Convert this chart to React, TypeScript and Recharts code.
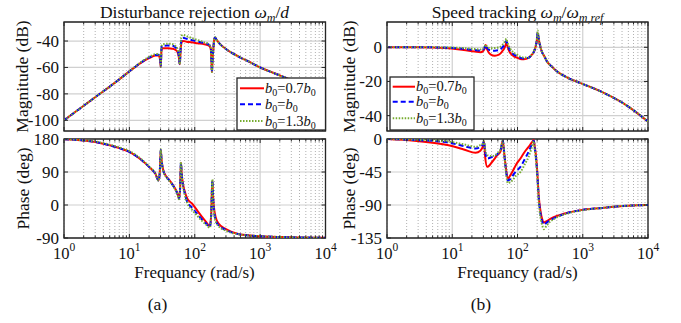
import React from 'react';
import {
  CartesianGrid,
  Line,
  LineChart,
  ReferenceArea,
  XAxis,
  YAxis,
} from 'recharts';

const FONT = "'Liberation Serif', 'Times New Roman', Times, serif";
const FRAME = '#262626';
const PAGE_W = 681;
const PAGE_H = 323;

// x axis (rad/s), log scale
const MAJOR_TICKS = [1, 10, 100, 1000, 10000];
const MINOR_TICKS = [
  2, 3, 4, 5, 6, 7, 8, 9,
  20, 30, 40, 50, 60, 70, 80, 90,
  200, 300, 400, 500, 600, 700, 800, 900,
  2000, 3000, 4000, 5000, 6000, 7000, 8000, 9000,
];

// (a) disturbance rejection, magnitude (dB)
const LM_W = [1, 2, 3, 5, 7, 10, 15, 20, 25, 28, 29.5, 30.2, 31, 32, 35, 40, 45, 50, 54, 57, 59, 61, 63, 66, 75, 90, 110, 140, 165, 176, 180, 183, 187, 193, 200, 205, 215, 240, 300, 400, 500, 700, 1000, 2000, 5000, 10000];
const LM_RED = [-100, -89, -82.5, -74.5, -69, -63, -56.5, -53, -51, -51, -54, -59.5, -47, -45.5, -45.5, -45.5, -45.8, -46.5, -48, -52, -57.5, -46, -41, -40, -40.5, -41, -41.7, -42.5, -43.5, -46, -55, -63.5, -55, -45, -38, -37.5, -39, -42, -46, -50, -52.5, -56, -60, -66, -74, -80];
const LM_BLUE = [-100, -89, -82.5, -74.5, -69, -63, -56.3, -52.5, -50.5, -50.3, -53, -59.5, -45, -43.5, -43.5, -43.3, -43.5, -44.5, -46.5, -51, -57.5, -44, -38.5, -37.5, -38.3, -39.3, -40.3, -41.5, -42.8, -45.5, -55, -63.5, -55, -45, -38, -37.3, -39, -42, -46, -50, -52.5, -56, -60, -66, -74, -80];
const LM_GREEN = [-100, -89, -82.5, -74.5, -69, -63, -56, -52, -50, -49.8, -52, -59.5, -44, -42.5, -42.2, -42, -42.3, -43.5, -45.5, -50, -57.5, -42, -36, -35.3, -36.3, -37.8, -39.2, -41, -42.5, -45.3, -55, -63.5, -55, -45, -38, -37, -39, -42, -46, -50, -52.5, -56, -60, -66, -74, -80];

// (a) disturbance rejection, phase (deg)
const LP_W = [1, 2, 3, 5, 7, 10, 15, 20, 25, 28, 29.2, 30.2, 31, 33, 36, 40, 45, 50, 54, 57.5, 59.5, 61.5, 63, 66, 70, 77, 92, 110, 130, 150, 170, 178, 186, 192, 197, 210, 230, 300, 480, 1000, 3000, 10000];
const LP_RED = [179.5, 176, 172, 163, 155, 145, 124, 104, 85, 67, 90, 150, 125, 95, 80, 70, 58, 45, 33, 18, 40, 115, 88, 58, 38, 17, 3, -16, -33, -47, -58, -30, 66, 15, -8, -35, -50, -66, -80, -85, -88, -89.5];
const LP_BLUE = [179.5, 176, 172, 163, 155, 145, 124, 104, 85, 66, 90, 150, 124, 94, 79, 69, 57, 44, 32, 17, 40, 115, 86, 55, 33, 8, -8, -25, -40, -51, -60, -30, 68, 12, -15, -42, -55, -68, -80, -85, -88, -89.5];
const LP_GREEN = [179.5, 176.5, 173, 164.5, 157, 147, 126, 105, 86, 66, 90, 152, 123, 93, 78, 68, 56, 43, 31, 16, 40, 117, 85, 53, 30, 5, -14, -30, -44, -54, -62, -30, 70, 10, -20, -45, -57, -70, -80, -85, -88, -89.5];

// (b) speed tracking, magnitude (dB)
const RM_W = [1, 3, 8, 15, 22, 27, 30, 31.5, 32.6, 34, 38.5, 45, 52, 58, 63, 66, 67.7, 70, 74, 78, 88, 98, 110, 125, 148, 165, 177, 190, 198, 204, 210, 220, 236, 260, 284, 330, 405, 600, 930, 2000, 5000, 10000];
const RM_RED = [0, 0, -0.4, -1.6, -2.5, -2.9, -2, -0.5, 1.3, -1, -4.1, -4.9, -4.3, -2.5, -0.5, 1.5, 2.9, 1, -2, -3.5, -5.3, -6, -6.8, -7, -6.2, -4.5, -2.9, 0.5, 4, 8.2, 5.5, 1.5, -2.5, -5.5, -8.4, -11, -14.2, -18, -21, -26.3, -34.7, -43.5];
const RM_BLUE = [0, 0, -0.2, -0.9, -1.6, -1.9, -1.2, 0, 1.4, -0.3, -1.8, -2, -1.6, -0.3, 1.5, 3, 3.8, 1.8, -0.7, -2.2, -4.2, -5.2, -6.2, -6.5, -6.1, -4.4, -2.8, 0.6, 4.3, 8.8, 5.8, 1.6, -2.5, -5.5, -8.4, -11, -14.2, -18, -21, -26.3, -34.7, -43.5];
const RM_GREEN = [0, 0, -0.1, -0.5, -1, -1.3, -0.6, 0.5, 1.6, 0.5, -0.6, -0.4, 0, 1.2, 3, 4.4, 5, 2.8, 0.5, -1, -3.2, -4.3, -5.5, -6, -6, -4.3, -2.6, 0.9, 4.8, 9.8, 6.2, 1.8, -2.4, -5.5, -8.4, -11, -14.2, -18, -21, -26.3, -34.7, -43.5];

// (b) speed tracking, phase (deg)
const RP_W = [1, 2.6, 8.4, 15, 22.8, 27, 29.5, 30.6, 32, 34.3, 41, 49, 55, 59.5, 63, 67, 71, 77, 83, 95, 111, 130, 148, 165, 177, 185, 193, 200, 212, 225, 240, 253, 280, 318, 400, 510, 930, 2000, 3000, 10000];
const RP_RED = [0, -2.3, -8.3, -14.2, -18.8, -16, -10, -3.5, -25, -38, -31, -22, -17, -2.3, -22, -42, -54, -50, -45, -35, -26.6, -17, -10.6, -5, -1.5, -12, -25, -42, -79, -98, -110, -114, -112, -109, -105, -102, -97, -94, -92.3, -90];
const RP_BLUE = [0, -1.3, -4.6, -9.6, -12.9, -10.6, -7, -3, -18, -26.6, -24.3, -20.7, -15, -2.3, -22, -45, -56.5, -55, -51, -44, -38, -27, -17.4, -8, -2.5, -14, -28, -45, -82, -102, -113, -117, -114, -110.6, -106, -102.5, -97, -94, -92.3, -90];
const RP_GREEN = [0, -1, -3.2, -7.3, -10.6, -8.3, -6, -3, -15, -22, -23.4, -19.7, -14, -2.5, -22, -47, -60, -59, -56.5, -50, -45, -34, -24.3, -12, -3, -16, -30, -48, -85, -107, -118, -123, -118, -112.5, -107, -103, -97.5, -94, -92.3, -90];

const SERIES = [
  { key: 'r', coef: '0.7', color: '#ff0000', dash: undefined as string | undefined },
  { key: 'b', coef: '', color: '#0000ff', dash: '5 3' },
  { key: 'g', coef: '1.3', color: '#77ac30', dash: '1.5 1.5' },
];

function toRows(w: number[], r: number[], b: number[], g: number[]) {
  return w.map((x, i) => ({ w: x, r: r[i], b: b[i], g: g[i] }));
}

type Box = { l: number; t: number; r: number; b: number };

function BodePanel({
  rows,
  box,
  yDomain,
  yTicks,
  xLabels,
}: {
  rows: any[];
  box: Box;
  yDomain: [number, number];
  yTicks: number[];
  xLabels: boolean;
}) {
  const { l, t, r, b } = box;

  const majorTick = (p: any) => {
    const x = p.x;
    const exp = Math.round(Math.log10(p.payload.value));
    return (
      <g>
        <line x1={x} x2={x} y1={b} y2={b - 4} stroke={FRAME} />
        <line x1={x} x2={x} y1={t} y2={t + 4} stroke={FRAME} />
        {xLabels && (
          <text x={x} y={258.5} textAnchor="middle" fontFamily={FONT} fontSize={16.5} fill="#111">
            10<tspan dy={-8} fontSize={11.5}>{exp}</tspan>
          </text>
        )}
      </g>
    );
  };

  const minorTick = (p: any) => (
    <g>
      <line x1={p.x} x2={p.x} y1={b} y2={b - 2.5} stroke={FRAME} />
      <line x1={p.x} x2={p.x} y1={t} y2={t + 2.5} stroke={FRAME} />
    </g>
  );

  const yTick = (p: any) => (
    <g>
      <line x1={l} x2={l + 4} y1={p.y} y2={p.y} stroke={FRAME} />
      <line x1={r} x2={r - 4} y1={p.y} y2={p.y} stroke={FRAME} />
      <text x={l - 5} y={p.y} dy="0.35em" textAnchor="end" fontFamily={FONT} fontSize={17} fill="#111">
        {p.payload.value}
      </text>
    </g>
  );

  return (
    <div style={{ position: 'absolute', left: 0, top: 0 }}>
      <LineChart
        width={PAGE_W}
        height={PAGE_H}
        data={rows}
        margin={{ top: t, left: l - 1, right: PAGE_W - r, bottom: PAGE_H - b - 2 }}
      >
        <XAxis
          xAxisId="maj"
          dataKey="w"
          type="number"
          scale="log"
          domain={[1, 10000]}
          ticks={MAJOR_TICKS}
          interval={0}
          height={1}
          axisLine={false}
          tickLine={false}
          tick={majorTick}
          allowDataOverflow
        />
        <XAxis
          xAxisId="min"
          dataKey="w"
          type="number"
          scale="log"
          domain={[1, 10000]}
          ticks={MINOR_TICKS}
          interval={0}
          height={1}
          axisLine={false}
          tickLine={false}
          tick={minorTick}
          allowDataOverflow
        />
        <YAxis
          type="number"
          domain={yDomain}
          ticks={yTicks}
          interval={0}
          width={1}
          axisLine={false}
          tickLine={false}
          tick={yTick}
          allowDataOverflow
        />
        <CartesianGrid xAxisId="min" horizontal={false} stroke="#b0b0b0" strokeDasharray="1 2" />
        <CartesianGrid xAxisId="maj" stroke="#d0d0d0" strokeWidth={1.2} />
        {SERIES.map((s) => (
          <Line
            key={s.key}
            xAxisId="maj"
            type="monotone"
            dataKey={s.key}
            stroke={s.color}
            strokeWidth={2}
            strokeDasharray={s.dash}
            dot={false}
            activeDot={false}
            isAnimationActive={false}
          />
        ))}
        <ReferenceArea
          xAxisId="maj"
          x1={1}
          x2={10000}
          y1={yDomain[0]}
          y2={yDomain[1]}
          fill="none"
          stroke={FRAME}
          strokeWidth={1.3}
          ifOverflow="visible"
        />
      </LineChart>
    </div>
  );
}

function LegendLabel({ coef }: { coef: string }) {
  return (
    <>
      <tspan fontStyle="italic">b</tspan>
      <tspan fontSize={10} dy={3}>0</tspan>
      <tspan dy={-3}>={coef}</tspan>
      <tspan fontStyle="italic">b</tspan>
      <tspan fontSize={10} dy={3}>0</tspan>
    </>
  );
}

function LegendBox({
  left,
  top,
  width,
  height,
  rows,
  sample,
}: {
  left: number;
  top: number;
  width: number;
  height: number;
  rows: number[];
  sample: [number, number];
}) {
  return (
    <svg
      width={width + 2}
      height={height + 2}
      style={{ position: 'absolute', left: left - 1, top: top - 1 }}
    >
      <rect x={1} y={1} width={width} height={height} fill="#fff" stroke={FRAME} strokeWidth={1.3} />
      {SERIES.map((s, i) => (
        <g key={s.key}>
          <line
            x1={sample[0]}
            x2={sample[1]}
            y1={rows[i]}
            y2={rows[i]}
            stroke={s.color}
            strokeWidth={2}
            strokeDasharray={s.dash}
          />
          <text x={sample[1] + 1} y={rows[i]} dy="0.32em" fontFamily={FONT} fontSize={14.5} fill="#111">
            <LegendLabel coef={s.coef} />
          </text>
        </g>
      ))}
    </svg>
  );
}

const LEFT_MAG_BOX = { l: 64, t: 22, r: 325.5, b: 131 };
const LEFT_PH_BOX = { l: 64, t: 139, r: 325.5, b: 238 };
const RIGHT_MAG_BOX = { l: 387, t: 22, r: 648, b: 131 };
const RIGHT_PH_BOX = { l: 387, t: 139, r: 648, b: 238 };

function Texts() {
  const label = { fontFamily: FONT, fontSize: 17.5, fill: '#111' };
  return (
    <svg width={PAGE_W} height={PAGE_H} style={{ position: 'absolute', left: 0, top: 0 }}>
      <text x={194.5} y={18} textAnchor="middle" {...label}>
        Disturbance rejection <tspan fontStyle="italic">ω</tspan>
        <tspan fontStyle="italic" fontSize={12} dy={4}>m</tspan>
        <tspan dy={-4}>/</tspan>
        <tspan fontStyle="italic">d</tspan>
      </text>
      <text x={517.5} y={18} textAnchor="middle" {...label}>
        Speed tracking <tspan fontStyle="italic">ω</tspan>
        <tspan fontStyle="italic" fontSize={12} dy={4}>m</tspan>
        <tspan dy={-4}>/</tspan>
        <tspan fontStyle="italic">ω</tspan>
        <tspan fontStyle="italic" fontSize={12} dy={4}>m,ref</tspan>
      </text>

      <text x={21.5} y={76.5} transform="rotate(-90 21.5 76.5)" textAnchor="middle" dominantBaseline="central" {...label}>
        Magnitude (dB)
      </text>
      <text x={23} y={188.5} transform="rotate(-90 23 188.5)" textAnchor="middle" dominantBaseline="central" {...label}>
        Phase (deg)
      </text>
      <text x={348.5} y={76.5} transform="rotate(-90 348.5 76.5)" textAnchor="middle" dominantBaseline="central" {...label}>
        Magnitude (dB)
      </text>
      <text x={348.5} y={188.5} transform="rotate(-90 348.5 188.5)" textAnchor="middle" dominantBaseline="central" {...label}>
        Phase (deg)
      </text>

      <text x={194.5} y={277.5} textAnchor="middle" {...label} fontSize={17}>Frequancy (rad/s)</text>
      <text x={517.5} y={277.5} textAnchor="middle" {...label} fontSize={17}>Frequancy (rad/s)</text>

      <text x={157.5} y={310} textAnchor="middle" {...label}>(a)</text>
      <text x={481} y={310} textAnchor="middle" {...label}>(b)</text>
    </svg>
  );
}

export default function App() {
  const lm = toRows(LM_W, LM_RED, LM_BLUE, LM_GREEN);
  const lp = toRows(LP_W, LP_RED, LP_BLUE, LP_GREEN);
  const rm = toRows(RM_W, RM_RED, RM_BLUE, RM_GREEN);
  const rp = toRows(RP_W, RP_RED, RP_BLUE, RP_GREEN);

  return (
    <div
      style={{
        position: 'absolute',
        left: 0,
        top: 0,
        width: PAGE_W,
        height: PAGE_H,
        background: '#fff',
        overflow: 'hidden',
      }}
    >
      <Texts />
      <BodePanel rows={lm} box={LEFT_MAG_BOX} yDomain={[-108.1, -25.6]} yTicks={[-100, -80, -60, -40]} xLabels={false} />
      <BodePanel rows={lp} box={LEFT_PH_BOX} yDomain={[-90, 180]} yTicks={[-90, 0, 90, 180]} xLabels />
      <BodePanel rows={rm} box={RIGHT_MAG_BOX} yDomain={[-49, 14.8]} yTicks={[-40, -20, 0]} xLabels={false} />
      <BodePanel rows={rp} box={RIGHT_PH_BOX} yDomain={[-135, 0]} yTicks={[-135, -90, -45, 0]} xLabels />
      <LegendBox left={237} top={78} width={88.5} height={52} rows={[11.3, 27.3, 44]} sample={[4, 28]} />
      <LegendBox left={390} top={77} width={84} height={53} rows={[10.7, 25.7, 42.3]} sample={[3.7, 26]} />
    </div>
  );
}
